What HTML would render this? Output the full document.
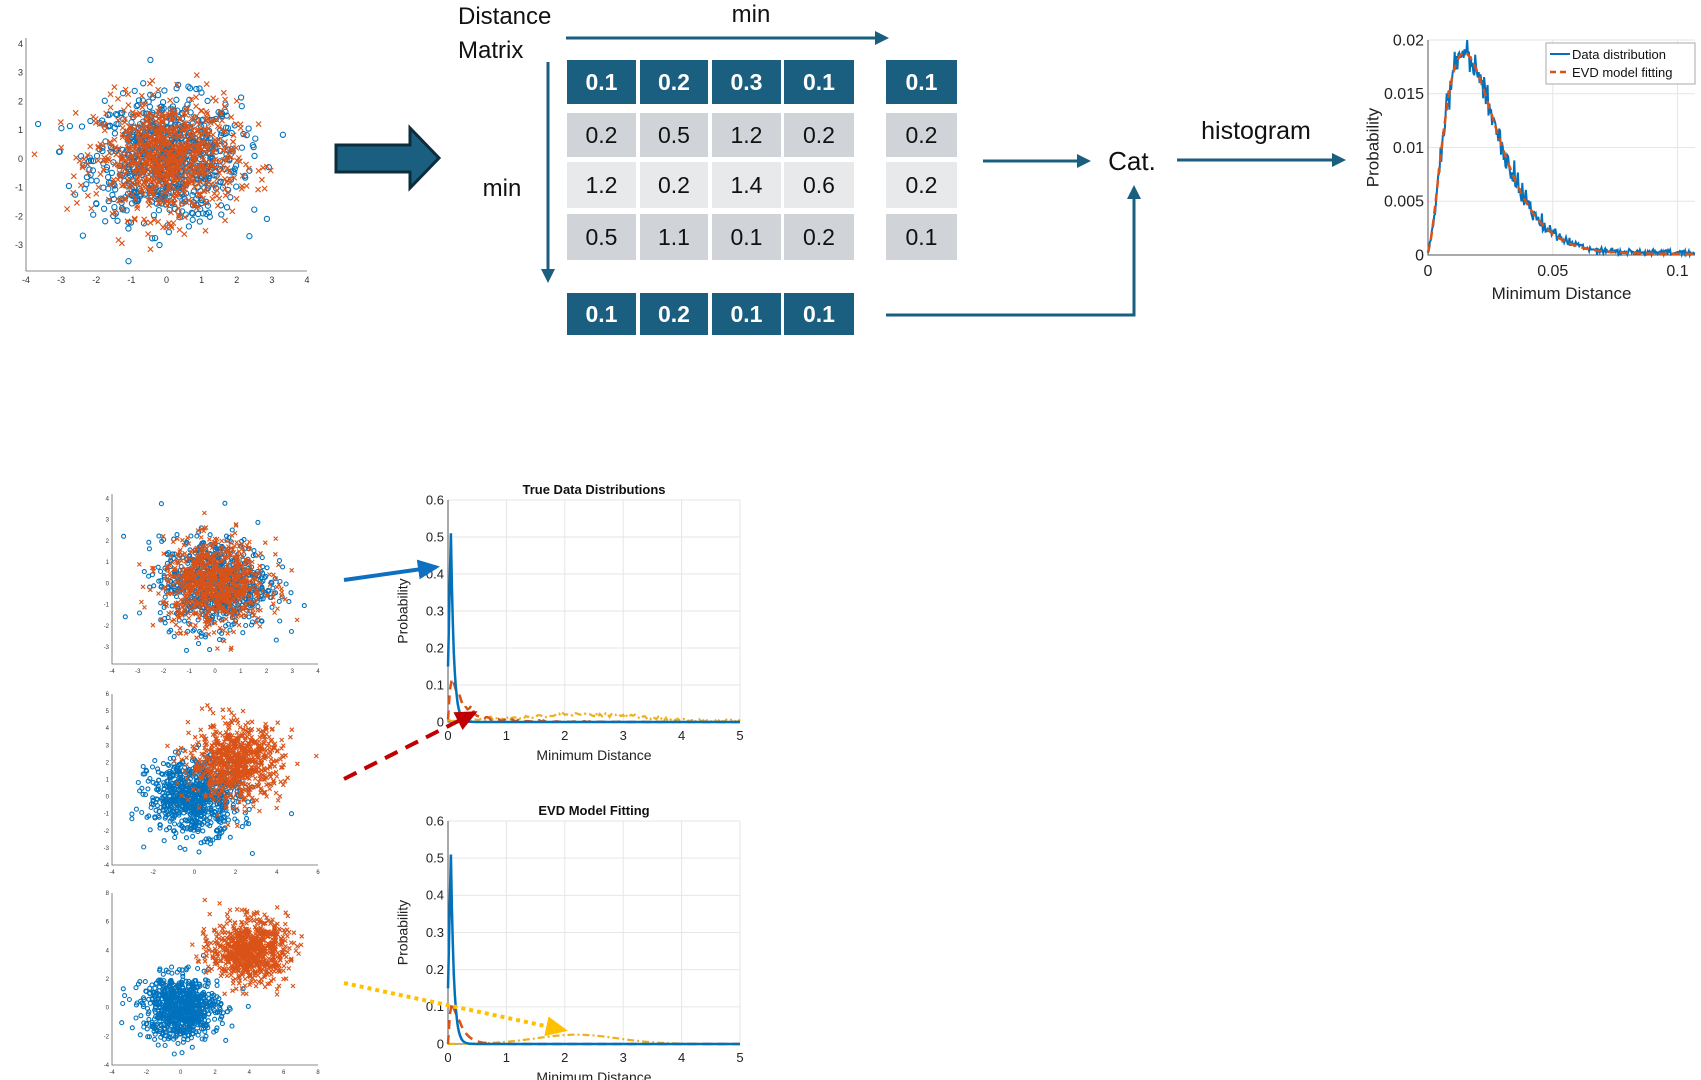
<!DOCTYPE html>
<html><head><meta charset="utf-8"><style>
html,body{margin:0;padding:0;background:#fff;}
svg{display:block;font-family:"Liberation Sans",sans-serif;}
</style></head><body>
<svg id="s" width="1701" height="1080" viewBox="0 0 1701 1080" xmlns="http://www.w3.org/2000/svg">
<defs>
<marker id="ah" markerWidth="14" markerHeight="14" refX="11" refY="7" orient="auto" markerUnits="userSpaceOnUse"><path d="M0,0 L14,7 L0,14 Z" fill="#1a5f80"/></marker>
<marker id="ahb" markerWidth="22" markerHeight="20" refX="18" refY="10" orient="auto" markerUnits="userSpaceOnUse"><path d="M0,0 L22,10 L0,20 Z" fill="#0f6fc0"/></marker>
<marker id="ahr" markerWidth="22" markerHeight="20" refX="18" refY="10" orient="auto" markerUnits="userSpaceOnUse"><path d="M0,0 L22,10 L0,20 Z" fill="#c00000"/></marker>
<marker id="ahy" markerWidth="22" markerHeight="20" refX="18" refY="10" orient="auto" markerUnits="userSpaceOnUse"><path d="M0,0 L22,10 L0,20 Z" fill="#ffc000"/></marker>
</defs>
<g id="scat"></g>
<path d="M336,145 L410,145 L410,128 L439,158 L410,188 L410,172 L336,172 Z" fill="#1a5f80" stroke="#0d2c3c" stroke-width="3"/>
<text x="458" y="24" font-size="24" fill="#111">Distance</text>
<text x="458" y="58" font-size="24" fill="#111">Matrix</text>
<text x="751" y="22" font-size="24" fill="#111" text-anchor="middle">min</text>
<text x="502" y="196" font-size="24" fill="#111" text-anchor="middle">min</text>
<line x1="566" y1="38" x2="886" y2="38" stroke="#1a5f80" stroke-width="3" marker-end="url(#ah)"/>
<line x1="548" y1="62" x2="548" y2="280" stroke="#1a5f80" stroke-width="3" marker-end="url(#ah)"/>
<g id="cells" font-size="23" text-anchor="middle"></g>
<line x1="983" y1="161" x2="1088" y2="161" stroke="#1a5f80" stroke-width="3" marker-end="url(#ah)"/>
<text x="1132" y="170" font-size="26" fill="#111" text-anchor="middle">Cat.</text>
<path d="M886,315 L1134,315 L1134,188" fill="none" stroke="#1a5f80" stroke-width="3" marker-end="url(#ah)"/>
<line x1="1177" y1="160" x2="1343" y2="160" stroke="#1a5f80" stroke-width="3" marker-end="url(#ah)"/>
<text x="1256" y="139" font-size="25" fill="#111" text-anchor="middle">histogram</text>
<g id="charts"></g>
<line x1="344" y1="580" x2="436" y2="567" stroke="#0f6fc0" stroke-width="4" marker-end="url(#ahb)"/>
<line x1="344" y1="779" x2="474" y2="713" stroke="#c00000" stroke-width="4" stroke-dasharray="14,9" marker-end="url(#ahr)"/>
<line x1="344" y1="983" x2="564" y2="1030" stroke="#ffc000" stroke-width="4" stroke-dasharray="4,4" marker-end="url(#ahy)"/>
</svg>
<script>
var NS="http://www.w3.org/2000/svg";
function el(p,t,a,txt){var e=document.createElementNS(NS,t);for(var k in a)e.setAttribute(k,a[k]);if(txt!==undefined)e.textContent=txt;p.appendChild(e);return e;}
var seed=12345;function rnd(){seed=(seed*1103515245+12345)%2147483648;return seed/2147483648;}
function gauss(){var u=rnd()||1e-9,v=rnd();return Math.sqrt(-2*Math.log(u))*Math.cos(2*Math.PI*v);}
var B="#0072bd",O="#d95319",Y="#edb120";
var cells=document.getElementById('cells');
var cx=[[567,636],[640,708],[712,781],[784,854]];
var rows=[[60,104],[113,157],[162,208],[214,260]];
var data=[["0.1","0.2","0.3","0.1"],["0.2","0.5","1.2","0.2"],["1.2","0.2","1.4","0.6"],["0.5","1.1","0.1","0.2"]];
var right=["0.1","0.2","0.2","0.1"],bot=["0.1","0.2","0.1","0.1"];
function cell(x0,x1,y0,y1,t,dark,light){var f=dark?"#1a5f80":(light?"#e7e9eb":"#d0d3d7");el(cells,"rect",{x:x0,y:y0,width:x1-x0,height:y1-y0,fill:f});el(cells,"text",{x:(x0+x1)/2,y:(y0+y1)/2+8,fill:dark?"#fff":"#111","font-weight":dark?"bold":"normal"},t);}
for(var r=0;r<4;r++){for(var c=0;c<4;c++)cell(cx[c][0],cx[c][1],rows[r][0],rows[r][1],data[r][c],r==0,r==2);cell(886,957,rows[r][0],rows[r][1],right[r],r==0,r==2);}
for(var c=0;c<4;c++)cell(cx[c][0],cx[c][1],293,335,bot[c],true,false);
var sc=document.getElementById('scat');
function scatter(x0,x1,y0,y1,xmin,xmax,ymin,ymax,xt,yt,clusters,fs,rad){
 el(sc,"path",{d:"M"+x0+","+y0+" L"+x0+","+y1+" L"+x1+","+y1,fill:"none",stroke:"#666","stroke-width":0.8});
 function X(v){return x0+(v-xmin)/(xmax-xmin)*(x1-x0);}function Yf(v){return y1-(v-ymin)/(ymax-ymin)*(y1-y0);}
 xt.forEach(function(v){el(sc,"text",{x:X(v),y:y1+fs+3,"font-size":fs,"text-anchor":"middle",fill:"#333"},v);});
 yt.forEach(function(v){el(sc,"text",{x:x0-3,y:Yf(v)+fs/3,"font-size":fs,"text-anchor":"end",fill:"#333"},v);});
 var g=el(sc,"g",{});
 clusters.forEach(function(cl){for(var i=0;i<cl.n;i++){var px=X(cl.mx+gauss()*cl.s),py=Yf(cl.my+gauss()*cl.s);
  if(px<x0+2||px>x1||py<y0||py>y1-2)continue;
  if(cl.c==B)el(g,"circle",{cx:px.toFixed(1),cy:py.toFixed(1),r:rad,fill:"none",stroke:B,"stroke-width":1.1});
  else el(g,"path",{d:"M"+(px-rad).toFixed(1)+","+(py-rad).toFixed(1)+"l"+2*rad+","+2*rad+"m0,-"+2*rad+"l-"+2*rad+","+2*rad,stroke:O,"stroke-width":1.1});}});
}
scatter(26,307,38,271,-4,4,-3.9,4.2,[-4,-3,-2,-1,0,1,2,3,4],[-3,-2,-1,0,1,2,3,4],[{c:B,n:800,mx:0,my:0,s:1.05},{c:O,n:800,mx:0,my:0,s:1.0}],9,2.6);
scatter(112,318,494,664,-4,4,-3.8,4.2,[-4,-3,-2,-1,0,1,2,3,4],[-3,-2,-1,0,1,2,3,4],[{c:B,n:800,mx:0,my:0,s:1.05},{c:O,n:800,mx:0,my:0,s:1.0}],6,2);
scatter(112,318,694,865,-4,6,-4,6,[-4,-2,0,2,4,6],[-4,-3,-2,-1,0,1,2,3,4,5,6],[{c:B,n:800,mx:0,my:0,s:1.1},{c:O,n:800,mx:2,my:2,s:1.1}],6,2);
scatter(112,318,893,1065,-4,8,-4,8,[-4,-2,0,2,4,6,8],[-4,-2,0,2,4,6,8],[{c:B,n:800,mx:0,my:0,s:1.1},{c:O,n:800,mx:4,my:4,s:1.1}],6,2);
var ch=document.getElementById('charts');
function chart(x0,x1,y0,y1,xmax,ymax,xt,yt,fs,curves,xl,title){
 function X(v){return x0+v/xmax*(x1-x0);}function Yf(v){return y1-v/ymax*(y1-y0);}
 xt.forEach(function(v){el(ch,"line",{x1:X(v[0]),x2:X(v[0]),y1:y0,y2:y1,stroke:"#e6e6e6"});el(ch,"text",{x:X(v[0]),y:y1+fs+5,"font-size":fs,"text-anchor":"middle",fill:"#222"},v[1]);});
 yt.forEach(function(v){el(ch,"line",{x1:x0,x2:x1,y1:Yf(v[0]),y2:Yf(v[0]),stroke:"#e6e6e6"});el(ch,"text",{x:x0-4,y:Yf(v[0])+fs/3,"font-size":fs,"text-anchor":"end",fill:"#222"},v[1]);});
 el(ch,"path",{d:"M"+x0+","+y0+" L"+x0+","+y1+" L"+x1+","+y1,fill:"none",stroke:"#555","stroke-width":1});
 curves.forEach(function(cv){var d="";for(var i=0;i<=cv.n;i++){var xv=i/cv.n*xmax;var yv=Math.max(0,Math.min(ymax,cv.f(xv)));d+=(i?"L":"M")+X(xv).toFixed(1)+","+Yf(yv).toFixed(1);}
  var a={d:d,fill:"none",stroke:cv.c,"stroke-width":cv.w};if(cv.da)a["stroke-dasharray"]=cv.da;el(ch,"path",a);});
 el(ch,"text",{x:(x0+x1)/2,y:y1+2*fs+12,"font-size":fs+1,"text-anchor":"middle",fill:"#222"},xl);
 el(ch,"text",{transform:"translate("+(x0-fs*3.1)+","+((y0+y1)/2)+") rotate(-90)","font-size":fs+1,"text-anchor":"middle",fill:"#222"},"Probability");
 if(title)el(ch,"text",{x:(x0+x1)/2,y:y0-6,"font-size":fs,"font-weight":"bold","text-anchor":"middle",fill:"#111"},title);
}
function fit(x){return 574.8*(x+0.0005)*(x+0.0005)*Math.exp(-x/0.0075);}
chart(1428,1695,40,255,0.107,0.02,[[0,"0"],[0.05,"0.05"],[0.1,"0.1"]],[[0,"0"],[0.005,"0.005"],[0.01,"0.01"],[0.015,"0.015"],[0.02,"0.02"]],16,
 [{n:300,c:B,w:2,f:function(x){return fit(x)+0.0007*gauss()*Math.min(1,fit(x)*120+0.2)+0.0002;}},{n:100,c:O,w:2.5,da:"8,5",f:function(x){return fit(x)+0.0001;}}],"Minimum Distance");
el(ch,"rect",{x:1546,y:43,width:149,height:41,fill:"#fff",stroke:"#aaa"});
el(ch,"line",{x1:1550,x2:1570,y1:54,y2:54,stroke:B,"stroke-width":2});
el(ch,"line",{x1:1550,x2:1570,y1:72,y2:72,stroke:O,"stroke-width":2.5,"stroke-dasharray":"6,4"});
el(ch,"text",{x:1572,y:59,"font-size":13,fill:"#111"},"Data distribution");
el(ch,"text",{x:1572,y:77,"font-size":13,fill:"#111"},"EVD model fitting");
function spike(x){return x<0.05?0.15+x/0.05*0.36:0.51*Math.exp(-(x-0.05)/0.05);}
function redf(x){return x<0.05?x/0.05*0.12:0.12*Math.exp(-(x-0.05)/0.22);}
function yel(x){return 0.018*Math.exp(-Math.pow((x-2.3)/1.3,2))+0.003;}
var xt5=[[0,"0"],[1,"1"],[2,"2"],[3,"3"],[4,"4"],[5,"5"]],yt6=[[0,"0"],[0.1,"0.1"],[0.2,"0.2"],[0.3,"0.3"],[0.4,"0.4"],[0.5,"0.5"],[0.6,"0.6"]];
chart(448,740,500,722,5,0.6,xt5,yt6,13,[{n:150,c:Y,w:2.2,da:"7,3,2,3",f:function(x){return yel(x)+0.003*gauss();}},{n:150,c:O,w:2.5,da:"9,6",f:function(x){return redf(x)+0.01*Math.abs(gauss())*Math.exp(-x);}},{n:300,c:B,w:2.5,f:spike}],"Minimum Distance","True Data Distributions");
chart(448,740,821,1044,5,0.6,xt5,yt6,13,[{n:150,c:Y,w:2.2,da:"7,3,2,3",f:function(x){return 0.025*Math.exp(-Math.pow((x-2.2)/1.0,2));}},{n:150,c:O,w:2.5,da:"9,6",f:function(x){return redf(x)*(x<0.2?1:Math.exp(-(x-0.2)*2.5));}},{n:300,c:B,w:2.5,f:spike}],"Minimum Distance","EVD Model Fitting");
</script>
</body></html>
